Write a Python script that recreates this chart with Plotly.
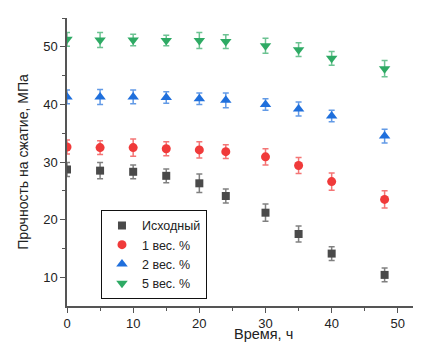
import plotly.graph_objects as go

time_h = [0, 5, 10, 15, 20, 24, 30, 35, 40, 48]

names = ["Исходный", "1 вес. %", "2 вес. %", "5 вес. %"]

base_vals = [28.7, 28.5, 28.3, 27.6, 26.3, 24.1, 21.2, 17.5, 14.1, 10.4]
base_err = [1.2, 1.4, 1.2, 1.2, 1.6, 1.2, 1.5, 1.4, 1.2, 1.2]

w1_vals = [32.6, 32.5, 32.5, 32.3, 32.1, 31.8, 30.9, 29.4, 26.6, 23.5]
w1_err = [1.2, 1.2, 1.5, 1.2, 1.4, 1.2, 1.4, 1.4, 1.5, 1.5]

w2_vals = [41.3, 41.3, 41.3, 41.2, 41.0, 40.7, 40.0, 39.2, 38.0, 34.5]
w2_err = [1.2, 1.3, 1.2, 1.0, 1.0, 1.3, 1.0, 1.2, 1.0, 1.2]

w5_vals = [51.3, 51.2, 51.2, 51.1, 51.1, 50.9, 50.2, 49.5, 48.0, 46.2]
w5_err = [1.2, 1.3, 1.0, 0.9, 1.4, 1.2, 1.3, 1.2, 1.2, 1.4]

x_ticks = [0, 10, 20, 30, 40, 50]
y_ticks = [10, 20, 30, 40, 50]

x_title = "Время, ч"
y_title = "Прочность на сжатие, МПа"

series = [
    (names[0], base_vals, base_err, "square", "#4a4a4a", "rgba(74,74,74,0.7)", 8),
    (names[1], w1_vals, w1_err, "circle", "#f03a3a", "rgba(240,58,58,0.7)", 9),
    (names[2], w2_vals, w2_err, "triangle-up", "#1f6fdc", "rgba(31,111,220,0.7)", 10),
    (names[3], w5_vals, w5_err, "triangle-down", "#2eaa64", "rgba(46,170,100,0.7)", 10),
]

fig = go.Figure()
for name, vals, err, sym, col, ecol, size in series:
    fig.add_trace(go.Scatter(
        x=time_h, y=vals, name=name, mode="markers",
        marker=dict(symbol=sym, color=col, size=size, line=dict(width=0)),
        error_y=dict(type="data", array=err, visible=True, color=ecol,
                     thickness=1.5, width=3),
    ))

FONT = "Liberation Sans, Arial"

axis_common = dict(
    showline=True, linecolor="#555555", linewidth=1.5,
    ticks="outside", ticklen=5, tickwidth=1.2, tickcolor="#555555",
    showgrid=False, zeroline=False, automargin=False,
    tickfont=dict(family=FONT, size=13, color="#222222"),
)

# page body adds an 8px offset, so the figure is sized 8px smaller
fig.update_layout(
    width=413, height=337,
    margin=dict(l=59, r=0, t=10, b=39),
    paper_bgcolor="white", plot_bgcolor="white",
    font=dict(family=FONT, color="#222222"),
    xaxis=dict(range=[0, 53.5], tickvals=x_ticks,
               minor=dict(tickvals=[5, 15, 25, 35, 45], ticks="outside", ticklen=3,
                          tickcolor="#555555", tickwidth=1),
               **axis_common),
    yaxis=dict(range=[5, 55], tickvals=y_ticks,
               minor=dict(tickvals=[15, 25, 35, 45, 55], ticks="outside", ticklen=3,
                          tickcolor="#555555", tickwidth=1),
               title=dict(text=y_title, font=dict(size=14, family=FONT), standoff=11),
               **axis_common),
    legend=dict(x=0.096, y=0.025, xanchor="left", yanchor="bottom",
                bordercolor="#111111", borderwidth=1, bgcolor="white",
                font=dict(size=12.5, family=FONT), tracegroupgap=0, itemwidth=30),
    showlegend=True,
    annotations=[dict(text=x_title, xref="paper", yref="paper", x=0.556, y=-0.1325,
                      xanchor="center", yanchor="bottom", showarrow=False,
                      font=dict(size=14.5, family=FONT, color="#222222"))],
)

fig.write_html("out.html")
